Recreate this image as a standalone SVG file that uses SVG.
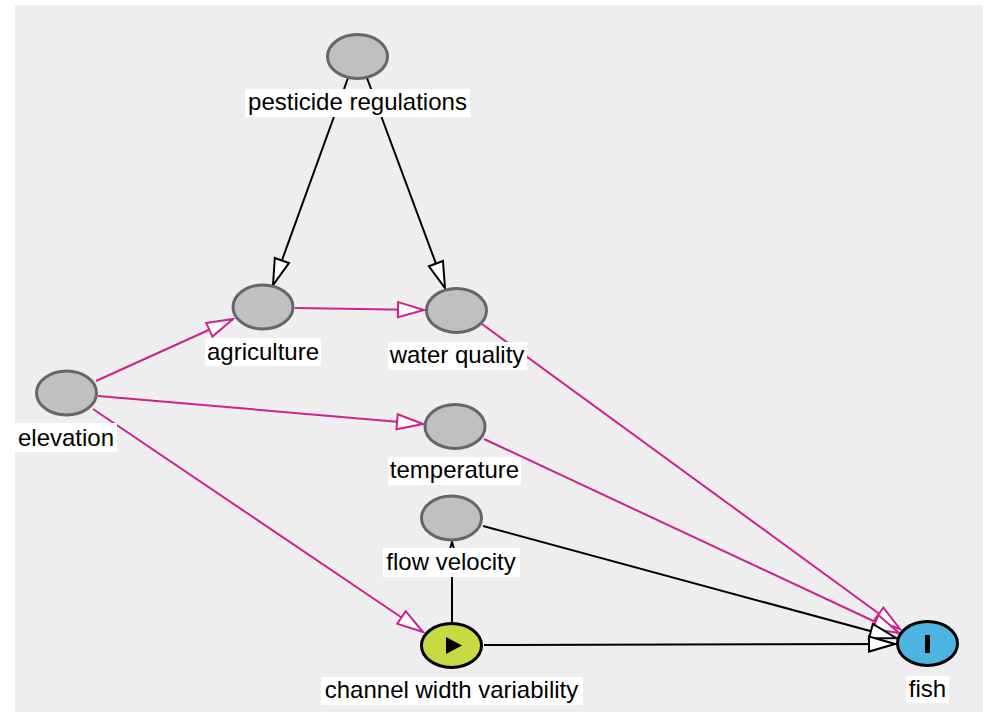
<svg xmlns="http://www.w3.org/2000/svg" width="987" height="712" viewBox="0 0 987 712">
<defs>
<style>
.bg{fill:#eeeeee}
.node{fill:#c0c0c0;stroke:#666666;stroke-width:3}
.e{fill:none;stroke-width:2}
.blk{stroke:#000000}
.mag{stroke:#d0218e}
.lb{fill:#ffffff}
text{font-family:"Liberation Sans",Arial,sans-serif;font-size:24px;fill:#000000;text-anchor:middle}
</style>
<marker id="ab" markerUnits="userSpaceOnUse" markerWidth="30" markerHeight="20" viewBox="0 0 30 20" refX="28" refY="10" orient="auto">
<path d="M2,2.5 L28,10 L2,17.5 Z" fill="#ffffff" stroke="#000000" stroke-width="2"/>
</marker>
<marker id="am" markerUnits="userSpaceOnUse" markerWidth="30" markerHeight="20" viewBox="0 0 30 20" refX="28" refY="10" orient="auto">
<path d="M2,2.5 L28,10 L2,17.5 Z" fill="#ffffff" stroke="#d0218e" stroke-width="2"/>
</marker>
</defs>
<rect class="bg" x="15" y="5" width="968" height="707"/>
<g id="edges">
<line class="e blk" x1="348" y1="78" x2="273" y2="285" marker-end="url(#ab)"/>
<line class="e blk" x1="367" y1="78" x2="445" y2="288" marker-end="url(#ab)"/>
<line class="e mag" x1="295" y1="308" x2="424" y2="310" marker-end="url(#am)"/>
<line class="e mag" x1="96" y1="381" x2="233" y2="319" marker-end="url(#am)"/>
<line class="e mag" x1="98" y1="396" x2="423" y2="424" marker-end="url(#am)"/>
<line class="e mag" x1="93" y1="409" x2="423" y2="632" marker-end="url(#am)"/>
<line class="e mag" x1="482" y1="324" x2="900" y2="629" marker-end="url(#am)"/>
<line class="e mag" x1="484" y1="439" x2="899" y2="633" marker-end="url(#am)"/>
<line class="e blk" x1="483" y1="526" x2="896" y2="638" marker-end="url(#ab)"/>
<line class="e blk" x1="484" y1="645" x2="895" y2="644" marker-end="url(#ab)"/>
<line class="e blk" x1="452" y1="622" x2="452" y2="542" marker-end="url(#ab)"/>
</g>
<g id="pesticide_regulations">
<ellipse class="node" cx="357.5" cy="56.5" rx="30" ry="22"/>
<rect class="lb" x="245" y="89" width="225" height="28"/>
<text x="357.5" y="110">pesticide regulations</text>
</g>
<g id="agriculture">
<ellipse class="node" cx="263" cy="307" rx="30" ry="22"/>
<rect class="lb" x="205" y="338" width="116" height="28"/>
<text x="263" y="360">agriculture</text>
</g>
<g id="water_quality">
<ellipse class="node" cx="456.5" cy="310.5" rx="30" ry="22"/>
<rect class="lb" x="388" y="342" width="139" height="28"/>
<text x="457" y="363">water quality</text>
</g>
<g id="elevation">
<ellipse class="node" cx="66.5" cy="393" rx="30" ry="22"/>
<rect class="lb" x="15" y="423" width="102" height="29"/>
<text x="66" y="446">elevation</text>
</g>
<g id="temperature">
<ellipse class="node" cx="455" cy="426.5" rx="30" ry="22"/>
<rect class="lb" x="388" y="457" width="133" height="28"/>
<text x="454.5" y="478">temperature</text>
</g>
<g id="flow_velocity">
<ellipse class="node" cx="451.5" cy="518" rx="30" ry="22"/>
<rect class="lb" x="383" y="548" width="137" height="29"/>
<text x="451" y="570">flow velocity</text>
</g>
<g id="channel_width_variability">
<ellipse cx="451.5" cy="645.5" rx="30" ry="22" fill="#c8da42" stroke="#000000" stroke-width="3"/>
<path d="M446,637 L446,654 L462,645.5 Z" fill="#000000"/>
<rect class="lb" x="321" y="677" width="262" height="28"/>
<text x="451.5" y="698">channel width variability</text>
</g>
<g id="fish">
<ellipse cx="927.5" cy="643.5" rx="30" ry="22" fill="#4db3e2" stroke="#000000" stroke-width="3"/>
<rect x="925" y="635" width="5" height="18" fill="#000000"/>
<rect class="lb" x="906" y="676" width="43" height="27"/>
<text x="927.5" y="697">fish</text>
</g>
</svg>
